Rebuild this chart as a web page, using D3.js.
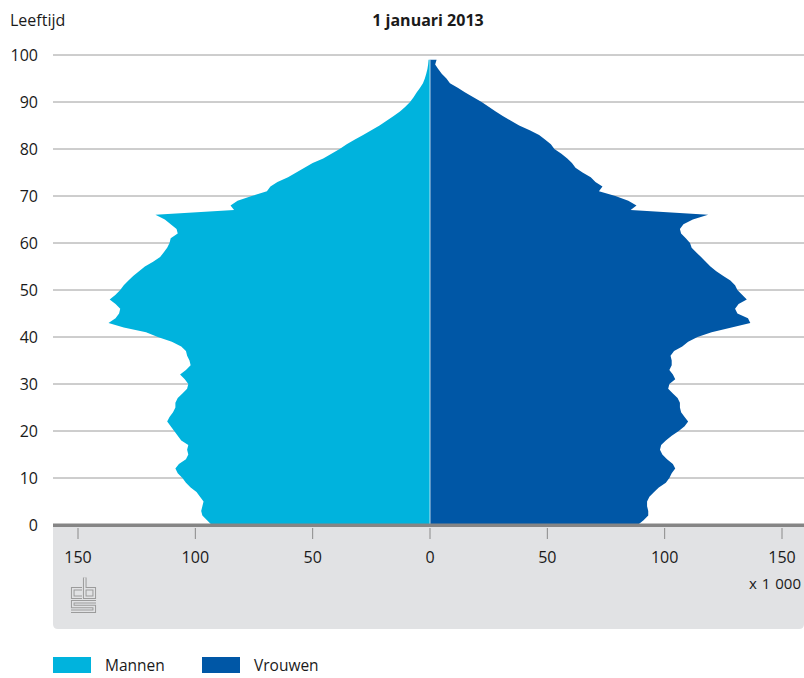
<!DOCTYPE html>
<html>
<head>
<meta charset="utf-8">
<script src="https://cdn.jsdelivr.net/npm/d3@7/dist/d3.min.js"></script>
<style>
  html, body { margin: 0; padding: 0; background: #ffffff; }
  svg { display: block; }
  text { font-family: "Open Sans", "Noto Sans", sans-serif; fill: #1a1a1a; }
</style>
</head>
<body>
<svg id="chart" width="804" height="678"></svg>
<script>
// ---- data (x 1 000 persons), age 0..99 ----
const ages = d3.range(0, 100);
const mannen = [
  93, 95, 97, 97.5, 97, 96.5, 98, 99.5, 102, 104,
  105.5, 107.5, 108.5, 107, 104, 103, 103.5, 103, 106, 107.5,
  109, 110.5, 112, 111, 109.5, 108.5, 108.5, 107.5, 105.5, 103.5,
  103, 104.5, 106.5, 104, 102, 102.5, 103.5, 104, 106, 110,
  116, 121, 130.5, 137, 134, 132.5, 132, 134, 136.5, 134,
  132, 130.5, 128.5, 126.5, 124, 121.5, 118, 115, 113.5, 112,
  111, 110.5, 107.5, 108, 110.5, 113, 117, 83.5, 85, 82,
  76, 69.5, 68, 65, 60.5, 57, 53.5, 50, 45.5, 42,
  38.5, 35.5, 32, 28.5, 25, 21.5, 18.5, 15.5, 12.8, 10.5,
  8.5, 7, 5.7, 4.3, 3, 2.2, 1.6, 1.1, 0.8, 0.6
];
const vrouwen = [
  88.5, 91, 93, 93, 92.5, 92.5, 93.5, 95.5, 97.5, 100.5,
  102, 103, 104.5, 103.5, 101, 99, 98, 98.5, 100.5, 103,
  106, 108.5, 110, 108.5, 107, 106.5, 106.5, 105.5, 103.5, 101.5,
  102, 104.5, 103.5, 102, 103, 103, 102.5, 104, 107.5, 110,
  114, 120, 128.5, 136.5, 135.5, 131, 130, 131.5, 135, 133,
  131, 130, 128, 125, 122, 119.5, 117.5, 115.5, 113.5, 111.5,
  110.8, 109, 107, 106.5, 108, 112, 118.5, 85.5, 88, 84.5,
  79, 72, 73.5, 70.5, 68.5, 65, 62, 60.5, 58.5, 56,
  53, 51.5, 49, 46.5, 42.5, 38, 34.5, 31, 28, 25,
  22, 18.5, 15, 12, 8.5, 7, 5, 3.5, 2.2, 2.8
];
const xTickValues = [-150, -100, -50, 0, 50, 100, 150];
const yTickValues = [0, 10, 20, 30, 40, 50, 60, 70, 80, 90, 100];
const seriesNames = ["Mannen", "Vrouwen"];
const seriesColors = ["#00b3dd", "#0057a6"];
const title = "1 januari 2013";
const yTitle = "Leeftijd";
const unitLabel = "x 1 000";

// ---- layout ----
const svg = d3.select("#chart");
const x = d3.scaleLinear().domain([-150, 150]).range([78, 782]);
const y = d3.scaleLinear().domain([0, 100]).range([525, 55]);
const plotLeft = 53, plotRight = 804;

// gridlines
svg.append("g").selectAll("line")
  .data(yTickValues.filter(d => d > 0))
  .join("line")
  .attr("x1", plotLeft).attr("x2", plotRight)
  .attr("y1", d => y(d)).attr("y2", d => y(d))
  .attr("stroke", "#9c9c9c").attr("stroke-width", 1);

// y labels
svg.append("g").selectAll("text")
  .data(yTickValues)
  .join("text")
  .attr("x", 38).attr("y", d => y(d))
  .attr("dy", "0.35em")
  .attr("text-anchor", "end")
  .style("font-size", "16px")
  .text(d => d);

// areas
const data = ages.map((a, i) => ({ age: a, m: mannen[i], v: vrouwen[i] }));
const areaM = d3.area()
  .y(d => y(d.age))
  .x0(x(0))
  .x1(d => x(-d.m));
const areaV = d3.area()
  .y(d => y(d.age))
  .x0(x(0))
  .x1(d => x(d.v));
svg.append("path").datum(data).attr("d", areaM).attr("fill", seriesColors[0]);
svg.append("path").datum(data).attr("d", areaV).attr("fill", seriesColors[1]);
// thin separator at 0
svg.append("line")
  .attr("x1", x(0)).attr("x2", x(0))
  .attr("y1", y(0)).attr("y2", y(ages[ages.length - 1]))
  .attr("stroke", "#e8f2f8").attr("stroke-width", 0.8);

// grey panel below the axis
const panelTop = 524, panelBottom = 629, r = 5;
svg.append("path")
  .attr("d", `M${plotLeft},${panelTop} H${plotRight} V${panelBottom - r} Q${plotRight},${panelBottom} ${plotRight - r},${panelBottom} H${plotLeft + r} Q${plotLeft},${panelBottom} ${plotLeft},${panelBottom - r} Z`)
  .attr("fill", "#e1e2e4");
// axis bar
svg.append("rect")
  .attr("x", plotLeft).attr("y", 523.5)
  .attr("width", plotRight - plotLeft).attr("height", 3.5)
  .attr("fill", "#858585");

// x ticks
const xg = svg.append("g");
xg.selectAll("line")
  .data(xTickValues)
  .join("line")
  .attr("x1", d => x(d)).attr("x2", d => x(d))
  .attr("y1", 528).attr("y2", 539)
  .attr("stroke", "#8a8a8a").attr("stroke-width", 1);
xg.selectAll("text")
  .data(xTickValues)
  .join("text")
  .attr("x", d => x(d)).attr("y", 557)
  .attr("dy", "0.35em")
  .attr("text-anchor", "middle")
  .style("font-size", "16px")
  .text(d => Math.abs(d));

svg.append("text")
  .attr("x", 801).attr("y", 584)
  .attr("dy", "0.35em")
  .attr("text-anchor", "end")
  .style("font-size", "15px")
  .style("word-spacing", "1px")
  .text(unitLabel);

// CBS logo (outlined strokes)
const logo = svg.append("g").attr("transform", "translate(71,577)");
const logoPaths = [
  "M11,11.75 H1.75 V20.25 H11",
  "M13.75,0.5 V20.25 H23.25 V11.75 H13.75",
  "M25,24.75 H1.75 V29.5 H23.25 V34.25 H0"
];
logoPaths.forEach(p => {
  logo.append("path").attr("d", p).attr("fill", "none")
    .attr("stroke", "#9b9b9b").attr("stroke-width", 3.6).attr("stroke-linejoin", "miter").attr("stroke-linecap", "butt");
});
logoPaths.forEach(p => {
  logo.append("path").attr("d", p).attr("fill", "none")
    .attr("stroke", "#e1e2e4").attr("stroke-width", 1.6).attr("stroke-linejoin", "miter").attr("stroke-linecap", "butt");
});

// titles
svg.append("text")
  .attr("x", 10).attr("y", 20).attr("dy", "0.35em")
  .style("font-size", "16px")
  .text(yTitle);
svg.append("text")
  .attr("x", 428).attr("y", 20).attr("dy", "0.35em")
  .attr("text-anchor", "middle")
  .style("font-size", "16px").style("font-weight", "bold")
  .text(title);

// legend
const legendX = [53, 202];
const lg = svg.append("g").selectAll("g")
  .data(seriesNames)
  .join("g")
  .attr("transform", (d, i) => `translate(${legendX[i]},657)`);
lg.append("rect").attr("width", 38).attr("height", 16)
  .attr("fill", (d, i) => seriesColors[i]);
lg.append("text").attr("x", 52).attr("y", 9).attr("dy", "0.35em")
  .style("font-size", "15.5px")
  .text(d => d);
</script>
</body>
</html>
